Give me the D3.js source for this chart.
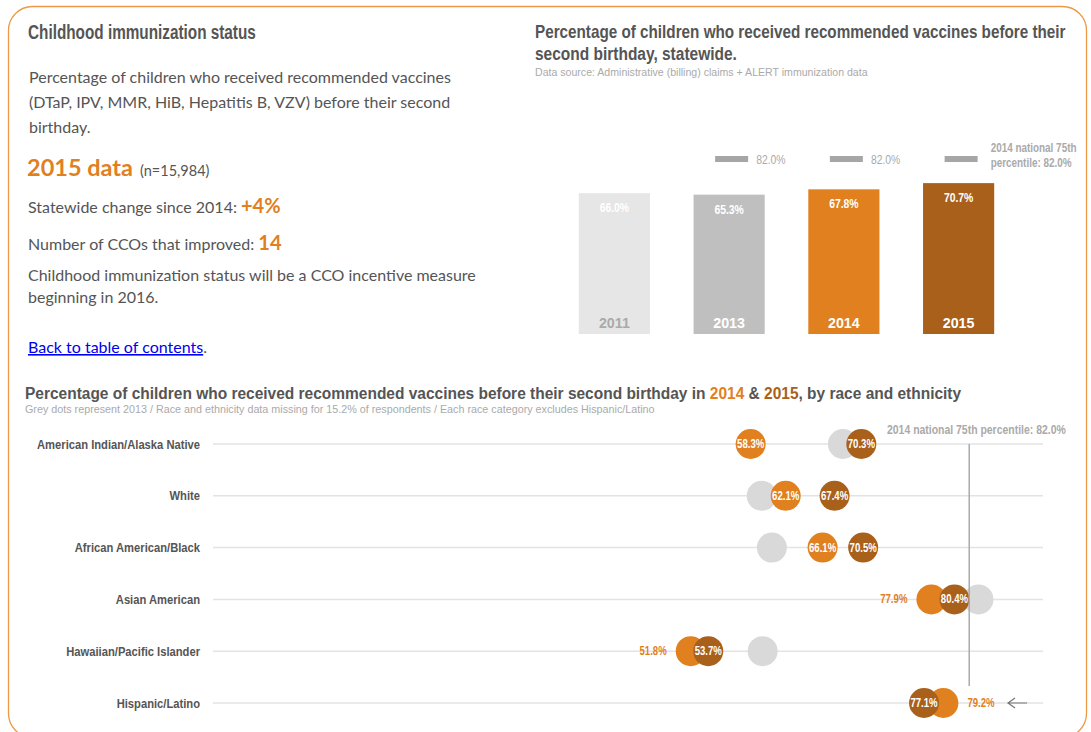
<!DOCTYPE html>
<html>
<head>
<meta charset="utf-8">
<script src="https://cdn.jsdelivr.net/npm/d3@7"></script>
<style>
  body { margin: 0; background: #fff; }
  svg text { font-family: "Liberation Sans Narrow", "Liberation Sans", sans-serif; }
  svg text.body-txt { font-family: Lato, "Open Sans", sans-serif; fill: #555; }
</style>
</head>
<body>
<div id="graph"></div>
<script>
// statewide bars
var years = ["2011", "2013", "2014", "2015"];
var statewide = [66.0, 65.3, 67.8, 70.7];
var benchmark = 82.0;

// race / ethnicity dots
var groups = ["American Indian/Alaska Native", "White", "African American/Black",
  "Asian American", "Hawaiian/Pacific Islander", "Hispanic/Latino"];
var v2013 = [68.3, 59.5, 60.6, 83.0, 59.6, null];
var v2014 = [58.3, 62.1, 66.1, 77.9, 51.8, 79.2];
var v2015 = [70.3, 67.4, 70.5, 80.4, 53.7, 77.1];
var label2014 = ["in", "in", "in", "left", "left", "right"];

var width = 1091, height = 732;
var orange = "#e0801f", brown = "#a9601b";

var svg = d3.select('#graph').append('svg')
  .attr('width', width)
  .attr('height', height);

// the narrow font is not installed, so squeeze the sans horizontally
function sq(x, y, k) { return 'translate(' + x + ',' + y + ') scale(' + k + ',1)'; }
// squeeze a text so it is exactly w wide
function fit(t, x, y, w) {
  var len = t.node().getComputedTextLength();
  t.attr('transform', sq(x, y, w / len));
}

// frame
svg.append('rect')
  .attr('x', 8.5).attr('y', 6.5)
  .attr('width', 1078).attr('height', 731)
  .attr('rx', 24)
  .attr('fill', 'none')
  .attr('stroke', '#ec9a45')
  .attr('stroke-width', 1.3);

// ---------- left text block ----------
var h1 = svg.append('text')
  .attr('font-size', 20).attr('font-weight', 'bold').attr('fill', '#555')
  .text('Childhood immunization status');
fit(h1, 28, 39, 228);

var para = ["Percentage of children who received recommended vaccines",
  "(DTaP, IPV, MMR, HiB, Hepatitis B, VZV) before their second",
  "birthday."];
svg.selectAll('.para').data(para).enter().append('text')
  .attr('class', 'body-txt')
  .attr('x', 29)
  .attr('y', function(d, i) { return 83 + i * 25; })
  .attr('font-size', 16)
  .text(function(d) { return d; });

var t1 = svg.append('text').attr('class', 'body-txt').attr('x', 27).attr('y', 176);
t1.append('tspan').attr('font-size', 23.5).attr('font-weight', 'bold').attr('fill', orange).text('2015 data');
t1.append('tspan').attr('font-size', 14.5).attr('dx', 7).text('(n=15,984)');

var t2 = svg.append('text').attr('class', 'body-txt').attr('x', 28).attr('y', 213).attr('font-size', 16);
t2.append('tspan').text('Statewide change since 2014: ');
t2.append('tspan').attr('font-size', 20).attr('font-weight', 'bold').attr('fill', orange).text('+4%');

var t3 = svg.append('text').attr('class', 'body-txt').attr('x', 28).attr('y', 250).attr('font-size', 16);
t3.append('tspan').text('Number of CCOs that improved: ');
t3.append('tspan').attr('font-size', 20).attr('font-weight', 'bold').attr('fill', orange).text('14');

["Childhood immunization status will be a CCO incentive measure", "beginning in 2016."]
  .forEach(function(s, i) {
    svg.append('text').attr('class', 'body-txt').attr('x', 28).attr('y', 281 + i * 22)
      .attr('font-size', 16).text(s);
  });

var link = svg.append('text').attr('class', 'body-txt').attr('x', 28).attr('y', 353).attr('font-size', 16);
link.append('tspan').attr('fill', '#0000ee').attr('text-decoration', 'underline').text('Back to table of contents');
link.append('tspan').text('.');

// ---------- statewide bar chart ----------
var h2a = svg.append('text')
  .attr('font-size', 18).attr('font-weight', 'bold').attr('fill', '#555')
  .text('Percentage of children who received recommended vaccines before their');
fit(h2a, 535, 38, 531);
var h2b = svg.append('text')
  .attr('font-size', 18).attr('font-weight', 'bold').attr('fill', '#555')
  .text('second birthday, statewide.');
fit(h2b, 535, 60, 202);
var h2c = svg.append('text')
  .attr('font-size', 11).attr('fill', '#aaa')
  .text('Data source: Administrative (billing) claims + ALERT immunization data');
fit(h2c, 535, 76, 333);

var bx = d3.scaleBand().domain(years).range([557, 1016]).paddingInner(0.38).paddingOuter(0.19);
var by = d3.scaleLinear().domain([0, 100]).range([334, 120.6]);
var barFill = ["#e6e6e6", "#bfbfbf", orange, brown];
var yearFill = ["#aaa", "#fff", "#fff", "#fff"];

var bars = svg.append('g').selectAll('g').data(statewide).enter().append('g');
bars.append('rect')
  .attr('x', function(d, i) { return bx(years[i]); })
  .attr('y', function(d) { return by(d); })
  .attr('width', bx.bandwidth())
  .attr('height', function(d) { return by(0) - by(d); })
  .attr('fill', function(d, i) { return barFill[i]; });
bars.append('text')
  .attr('transform', function(d, i) { return sq(bx(years[i]) + bx.bandwidth() / 2, by(d) + 19, 0.8); })
  .attr('text-anchor', 'middle').attr('font-size', 13).attr('font-weight', 'bold')
  .attr('fill', '#fff')
  .text(function(d) { return d.toFixed(1) + '%'; });
bars.append('text')
  .attr('transform', function(d, i) { return sq(bx(years[i]) + bx.bandwidth() / 2, 328, 0.92); })
  .attr('text-anchor', 'middle').attr('font-size', 15.5).attr('font-weight', 'bold')
  .attr('fill', function(d, i) { return yearFill[i]; })
  .text(function(d, i) { return years[i]; });

// benchmark markers over 2013-2015
var markYears = years.slice(1);
var marks = svg.append('g').selectAll('g').data(markYears).enter().append('g');
marks.append('rect')
  .attr('x', function(d) { return bx(d) + bx.bandwidth() / 2 - 14; })
  .attr('y', by(benchmark) - 3)
  .attr('width', 33).attr('height', 6)
  .attr('fill', '#a6a6a6');
marks.each(function(d, i) {
  var x = bx(d) + bx.bandwidth() / 2 + 27;
  var g = d3.select(this);
  if (i < markYears.length - 1) {
    g.append('text').attr('transform', sq(x, by(benchmark) + 4.5, 0.8))
      .attr('font-size', 13).attr('fill', '#aaa')
      .text(benchmark.toFixed(1) + '%');
  } else {
    var a = g.append('text').attr('font-size', 12.5).attr('font-weight', 'bold').attr('fill', '#aaa')
      .text('2014 national 75th');
    fit(a, x + 5, by(benchmark) - 7, 86);
    var b = g.append('text').attr('font-size', 12.5).attr('font-weight', 'bold').attr('fill', '#aaa')
      .text('percentile: ' + benchmark.toFixed(1) + '%');
    fit(b, x + 5, by(benchmark) + 8, 81);
  }
});

// ---------- dot plot ----------
var title = svg.append('text')
  .attr('font-size', 17).attr('font-weight', 'bold').attr('fill', '#555');
title.append('tspan').text('Percentage of children who received recommended vaccines before their second birthday in ');
title.append('tspan').attr('fill', orange).text('2014');
title.append('tspan').text(' & ');
title.append('tspan').attr('fill', brown).text('2015');
title.append('tspan').text(', by race and ethnicity');
fit(title, 25, 399, 937);
var sub = svg.append('text')
  .attr('font-size', 10.5).attr('fill', '#aaa')
  .text('Grey dots represent 2013 / Race and ethnicity data missing for 15.2% of respondents / Each race category excludes Hispanic/Latino');
fit(sub, 25, 413, 630);

var x = d3.scaleLinear().domain([0, 90]).range([213, 1043]);
var y = d3.scalePoint().domain(groups).range([444, 703]);
var r = 15;

var rows = svg.append('g').selectAll('g').data(groups).enter().append('g')
  .attr('transform', function(d) { return 'translate(0,' + y(d) + ')'; });
rows.append('line')
  .attr('x1', x(0)).attr('x2', x(90))
  .attr('stroke', '#e3e3e3').attr('stroke-width', 1.5);
rows.append('text')
  .attr('transform', sq(200, 4.5, 0.83))
  .attr('text-anchor', 'end').attr('font-size', 13.5).attr('font-weight', 'bold').attr('fill', '#555')
  .text(function(d) { return d; });

// benchmark line (stops above the last row)
svg.append('line')
  .attr('x1', x(benchmark)).attr('x2', x(benchmark))
  .attr('y1', y(groups[0])).attr('y2', 686)
  .attr('stroke', '#aaa').attr('stroke-width', 1.5);
var bl = svg.append('text')
  .attr('font-size', 13).attr('font-weight', 'bold').attr('fill', '#aaa')
  .text('2014 national 75th percentile: ' + benchmark.toFixed(1) + '%');
fit(bl, 887, 434, 179);

rows.each(function(g, i) {
  var row = d3.select(this);
  if (v2013[i] != null) {
    row.append('circle').attr('cx', x(v2013[i])).attr('r', r).attr('fill', '#d9d9d9');
  }
  row.append('circle').attr('cx', x(v2014[i])).attr('r', r).attr('fill', orange);
  row.append('circle').attr('cx', x(v2015[i])).attr('r', r).attr('fill', brown);

  var l14 = row.append('text').attr('font-size', 12).attr('font-weight', 'bold')
    .text(v2014[i].toFixed(1) + '%');
  if (label2014[i] === 'in') {
    l14.attr('transform', sq(x(v2014[i]), 4, 0.8)).attr('text-anchor', 'middle').attr('fill', '#fff');
  } else if (label2014[i] === 'left') {
    l14.attr('transform', sq(x(v2014[i]) - r - 9, 4, 0.8)).attr('text-anchor', 'end').attr('fill', orange);
  } else {
    l14.attr('transform', sq(x(v2014[i]) + r + 9, 4, 0.8)).attr('text-anchor', 'start').attr('fill', orange);
  }
  row.append('text').attr('transform', sq(x(v2015[i]), 4, 0.8))
    .attr('text-anchor', 'middle').attr('font-size', 12).attr('font-weight', 'bold').attr('fill', '#fff')
    .text(v2015[i].toFixed(1) + '%');
});

// arrow pointing at the Hispanic/Latino label
var ah = y(groups[5]);
svg.append('path')
  .attr('d', 'M1027,' + ah + 'L1008,' + ah + 'M1015,' + (ah - 5) + 'L1008,' + ah + 'L1015,' + (ah + 5))
  .attr('fill', 'none').attr('stroke', '#777').attr('stroke-width', 1.2);
</script>
</body>
</html>
